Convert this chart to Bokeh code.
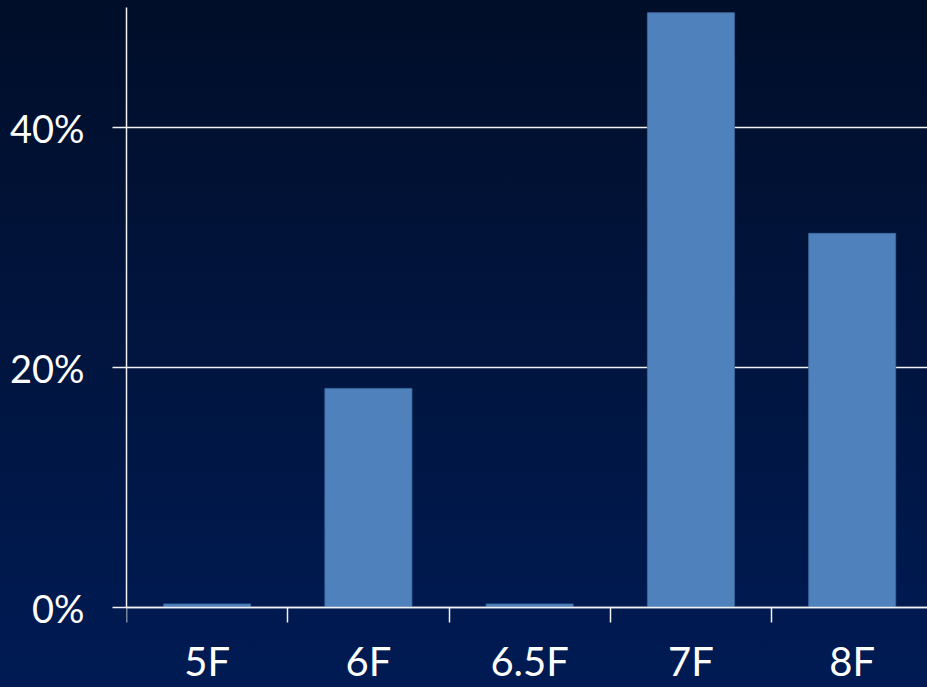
from bokeh.plotting import figure
from bokeh.models import Range1d, FixedTicker, PrintfTickFormatter, ColumnDataSource
from bokeh.embed import file_html
from bokeh.resources import INLINE

# Data
categories = ["5F", "6F", "6.5F", "7F", "8F"]
shares = [0.3, 18.26, 0.3, 49.57, 31.18]   # percent
y_ticks = [0, 20, 40]

n = len(categories)
centers = [i + 0.5 for i in range(n)]
boundaries = [i for i in range(n + 1)]

src = ColumnDataSource(dict(x=centers, top=shares, cat=categories))

# frame spans the whole lower part; the x axis sits at y = 0 inside it
p = figure(width=927, height=687,
           x_range=Range1d(0, 4.967), y_range=Range1d(-80 / 12.0, 50),
           output_backend="svg", toolbar_location=None,
           min_border_left=126, min_border_top=7, min_border_right=0, min_border_bottom=0,
           background_fill_color=None, border_fill_color=None, outline_line_color=None)

p.vbar(x="x", top="top", bottom=0, width=0.54, source=src,
       fill_color="#4f81bd", line_color="#3d6a9e", line_width=0.8)

white = "#f2f2f2"
font = "Lato"

# x axis: boundary ticks (minor), labels at category centres
xa = p.xaxis[0]
xa.fixed_location = 0
xa.ticker = FixedTicker(ticks=centers, minor_ticks=boundaries)
xa.major_label_overrides = {c: cat for c, cat in zip(centers, categories)}
xa.major_tick_out = 0
xa.major_tick_in = 0
xa.minor_tick_out = 15
xa.minor_tick_in = 0
xa.minor_tick_line_color = white
xa.minor_tick_line_width = 1.5
xa.axis_line_color = white
xa.axis_line_width = 1.5
xa.major_label_text_color = "#ffffff"
xa.major_label_text_font = font
xa.major_label_text_font_size = "40px"
xa.major_label_standoff = 14

# y axis
ya = p.yaxis[0]
ya.bounds = (0, 50)
ya.ticker = FixedTicker(ticks=y_ticks, minor_ticks=[])
ya.formatter = PrintfTickFormatter(format="%d%%")
ya.major_tick_out = 14
ya.major_tick_in = 0
ya.major_tick_line_color = white
ya.major_tick_line_width = 1.5
ya.axis_line_color = white
ya.axis_line_width = 1.5
ya.major_label_text_color = "#ffffff"
ya.major_label_text_font = font
ya.major_label_text_font_size = "38px"
ya.major_label_standoff = 28

p.xgrid.visible = False
p.ygrid.ticker = FixedTicker(ticks=y_ticks, minor_ticks=[])
p.ygrid.grid_line_color = white
p.ygrid.grid_line_width = 1.5

html = file_html(p, INLINE)
style = ("<style>html,body{margin:0;padding:0;height:100%;"
         "background:linear-gradient(to bottom,#010e29 0%,#001b54 100%);}</style>")
html = html.replace("</head>", style + "</head>", 1)
open("out.html", "w").write(html)
